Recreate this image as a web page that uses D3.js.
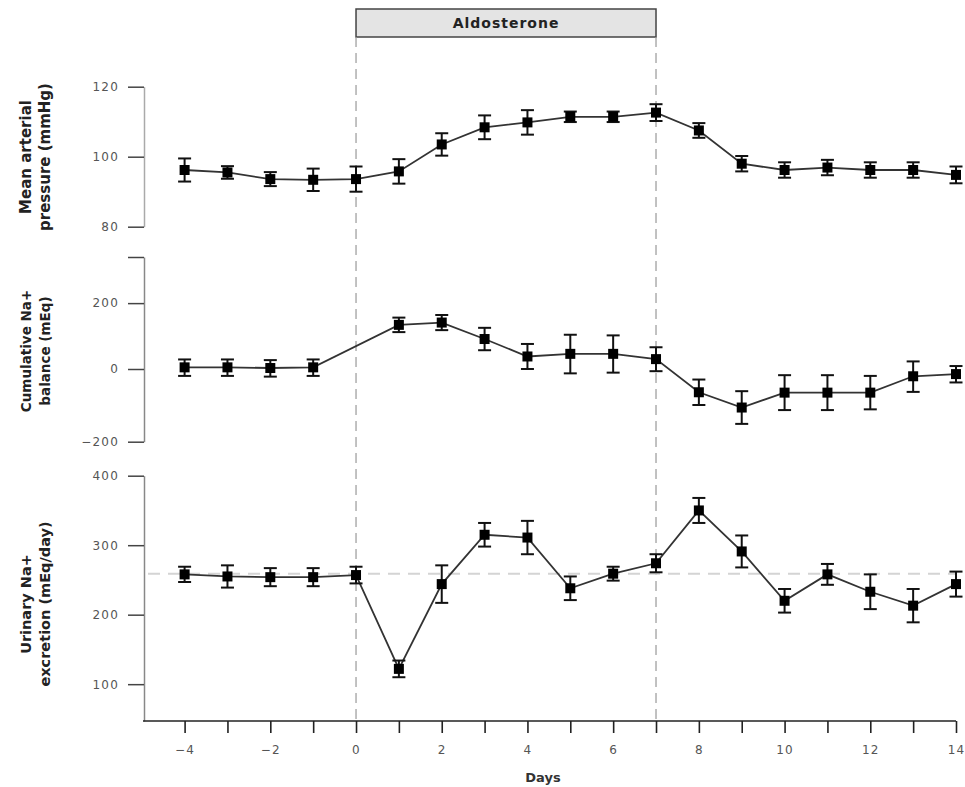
<!DOCTYPE html>
<html>
<head>
<meta charset="utf-8">
<script src="https://cdn.jsdelivr.net/npm/d3@7/dist/d3.min.js"></script>
<style>
  html, body { margin: 0; padding: 0; background: #fff; }
  svg { display: block; font-family: "DejaVu Sans", Verdana, sans-serif; }
</style>
</head>
<body>
<svg id="chart" width="965" height="787"></svg>
<script>
// ---- data ----
const days = [-4,-3,-2,-1,0,1,2,3,4,5,6,7,8,9,10,11,12,13,14];

const mapMean = [96.2,95.5,93.6,93.4,93.6,95.8,103.5,108.4,109.8,111.4,111.4,112.6,107.5,98.0,96.2,96.9,96.2,96.2,94.8];
const mapErr  = [3.3,1.8,2.0,3.2,3.6,3.5,3.2,3.4,3.5,1.5,1.5,2.4,2.1,2.2,2.2,2.2,2.2,2.2,2.4];

const naBalMean = [5,5,3,5,null,134,141,91,38,46,46,30,-64,-106,-65,-65,-65,-20,-14];
const naBalErr  = [24,24,24,24,null,22,23,34,38,58,56,36,35,45,48,48,46,43,23];

const naExcMean = [258,255,254,254,257,122,244,315,311,238,259,274,350,291,220,258,233,213,244];
const naExcErr  = [11,16,13,13,12,12,27,17,24,17,10,13,18,23,17,15,25,24,18];

const mapTicks = [80,100,120];
const balTicks = [-200,0,200,340];
const excTicks = [100,200,300,400];
const xTickLabels = [-4,-2,0,2,4,6,8,10,12,14];
const excBaseline = 259;
const treatment = {start: 0, end: 7, label: "Aldosterone"};

const yLabels = [
  ["Mean arterial", "pressure (mmHg)"],
  ["Cumulative Na+", "balance (mEq)"],
  ["Urinary Na+", "excretion (mEq/day)"]
];

// ---- scales ----
const svg = d3.select("#chart");
const x = d3.scaleLinear().domain([-4,14]).range([184.6,956]);
const axisX = 144;

const yMap = d3.scaleLinear().domain([80,120]).range([226.7,86.7]);
const yBal = d3.scaleLinear().domain([-200,0,340]).range([441.7,369,257]);
const yExc = d3.scaleLinear().domain([47,400]).range([721,475.7]);

// ---- treatment band ----
const tx0 = x(treatment.start), tx1 = x(treatment.end);
svg.append("rect").attr("x", tx0).attr("y", 9).attr("width", tx1 - tx0).attr("height", 28)
  .attr("fill", "#e4e4e4").attr("stroke", "#444").attr("stroke-width", 1.5);
svg.append("text").attr("x", (tx0+tx1)/2).attr("y", 23).attr("dy", "0.35em")
  .attr("text-anchor", "middle").attr("font-weight", "bold").attr("font-size", 14)
  .attr("letter-spacing", 1).attr("fill", "#222").text(treatment.label);

[treatment.start, treatment.end].forEach(d => {
  svg.append("line").attr("x1", x(d)).attr("x2", x(d)).attr("y1", 37).attr("y2", 721)
    .attr("stroke", "#999").attr("stroke-width", 1.2).attr("stroke-dasharray", "10,6");
});

// bottom baseline dashed
svg.append("line").attr("x1", axisX + 4).attr("x2", 956)
  .attr("y1", yExc(excBaseline)).attr("y2", yExc(excBaseline))
  .attr("stroke", "#d4d4d4").attr("stroke-width", 2).attr("stroke-dasharray", "12,8");

// ---- y axes ----
function styleAxis(g, color) {
  g.selectAll("path.domain").attr("stroke", color).attr("stroke-width", 1.5);
  g.selectAll(".tick line").attr("stroke", "#444").attr("stroke-width", 1.5);
  g.selectAll(".tick text").attr("fill", "#555").attr("font-size", 12)
    .attr("letter-spacing", 1.2).attr("font-family", "DejaVu Sans, sans-serif");
}

const fmt = d => d3.format("d")(d).replace("-", "\u2212");

const gMap = svg.append("g").attr("transform", `translate(${axisX},0)`)
  .call(d3.axisLeft(yMap).tickValues(mapTicks).tickSize(16).tickSizeOuter(0).tickPadding(9).tickFormat(fmt));
styleAxis(gMap, "#aaa");

const gBal = svg.append("g").attr("transform", `translate(${axisX},0)`)
  .call(d3.axisLeft(yBal).tickValues(balTicks).tickSize(16).tickSizeOuter(0).tickPadding(9)
    .tickFormat(d => d === 340 ? "" : fmt(d)));
styleAxis(gBal, "#888");

const gExc = svg.append("g").attr("transform", `translate(${axisX},0)`)
  .call(d3.axisLeft(yExc).tickValues(excTicks).tickSize(16).tickSizeOuter(0).tickPadding(9).tickFormat(fmt));
styleAxis(gExc, "#888");

// ---- x axis ----
svg.append("line").attr("x1", axisX - 1).attr("x2", x(14)).attr("y1", 721).attr("y2", 721)
  .attr("stroke", "#222").attr("stroke-width", 1.6);
const gX = svg.append("g").attr("transform", "translate(0,721)")
  .call(d3.axisBottom(x).tickValues(days).tickSize(12).tickSizeOuter(0).tickPadding(12)
    .tickFormat(d => xTickLabels.includes(d) ? fmt(d) : ""));
gX.select("path.domain").remove();
gX.selectAll(".tick line").attr("stroke", "#222").attr("stroke-width", 1.6);
gX.selectAll(".tick text").attr("fill", "#555").attr("font-size", 12).attr("letter-spacing", 1.2)
  .attr("font-family", "DejaVu Sans, sans-serif");

svg.append("text").attr("x", 543).attr("y", 777).attr("dy", "0.35em").attr("text-anchor", "middle")
  .attr("font-weight", "bold").attr("font-size", 13).attr("fill", "#333").text("Days");

// ---- y labels ----
const labelCenters = [157, 351, 604];
const labelSizes = [15, 13.5, 14.5];
yLabels.forEach((lines, i) => {
  const cy = labelCenters[i];
  lines.forEach((t, j) => {
    svg.append("text")
      .attr("transform", `translate(${26 + j*19},${cy}) rotate(-90)`)
      .attr("text-anchor", "middle").attr("dy", "0.35em")
      .attr("font-weight", "bold").attr("font-size", labelSizes[i]).attr("fill", "#222")
      .text(t);
  });
});

// ---- series ----
function drawSeries(means, errs, y) {
  const pts = days.map((d, i) => ({d, m: means[i], e: errs[i]})).filter(p => p.m !== null);
  const line = d3.line().x(p => x(p.d)).y(p => y(p.m));
  const g = svg.append("g");
  g.append("path").attr("d", line(pts)).attr("fill", "none")
    .attr("stroke", "#333").attr("stroke-width", 1.8);
  const eb = g.selectAll("g.eb").data(pts).join("g");
  eb.append("line").attr("x1", p => x(p.d)).attr("x2", p => x(p.d))
    .attr("y1", p => y(p.m + p.e)).attr("y2", p => y(p.m - p.e))
    .attr("stroke", "#111").attr("stroke-width", 2);
  [1, -1].forEach(s => {
    eb.append("line").attr("x1", p => x(p.d) - 6.5).attr("x2", p => x(p.d) + 6.5)
      .attr("y1", p => y(p.m + s*p.e)).attr("y2", p => y(p.m + s*p.e))
      .attr("stroke", "#111").attr("stroke-width", 2);
  });
  eb.append("rect").attr("x", p => x(p.d) - 5).attr("y", p => y(p.m) - 5)
    .attr("width", 10).attr("height", 10).attr("fill", "#000");
}

drawSeries(mapMean, mapErr, yMap);
drawSeries(naBalMean, naBalErr, yBal);
drawSeries(naExcMean, naExcErr, yExc);
</script>
</body>
</html>
